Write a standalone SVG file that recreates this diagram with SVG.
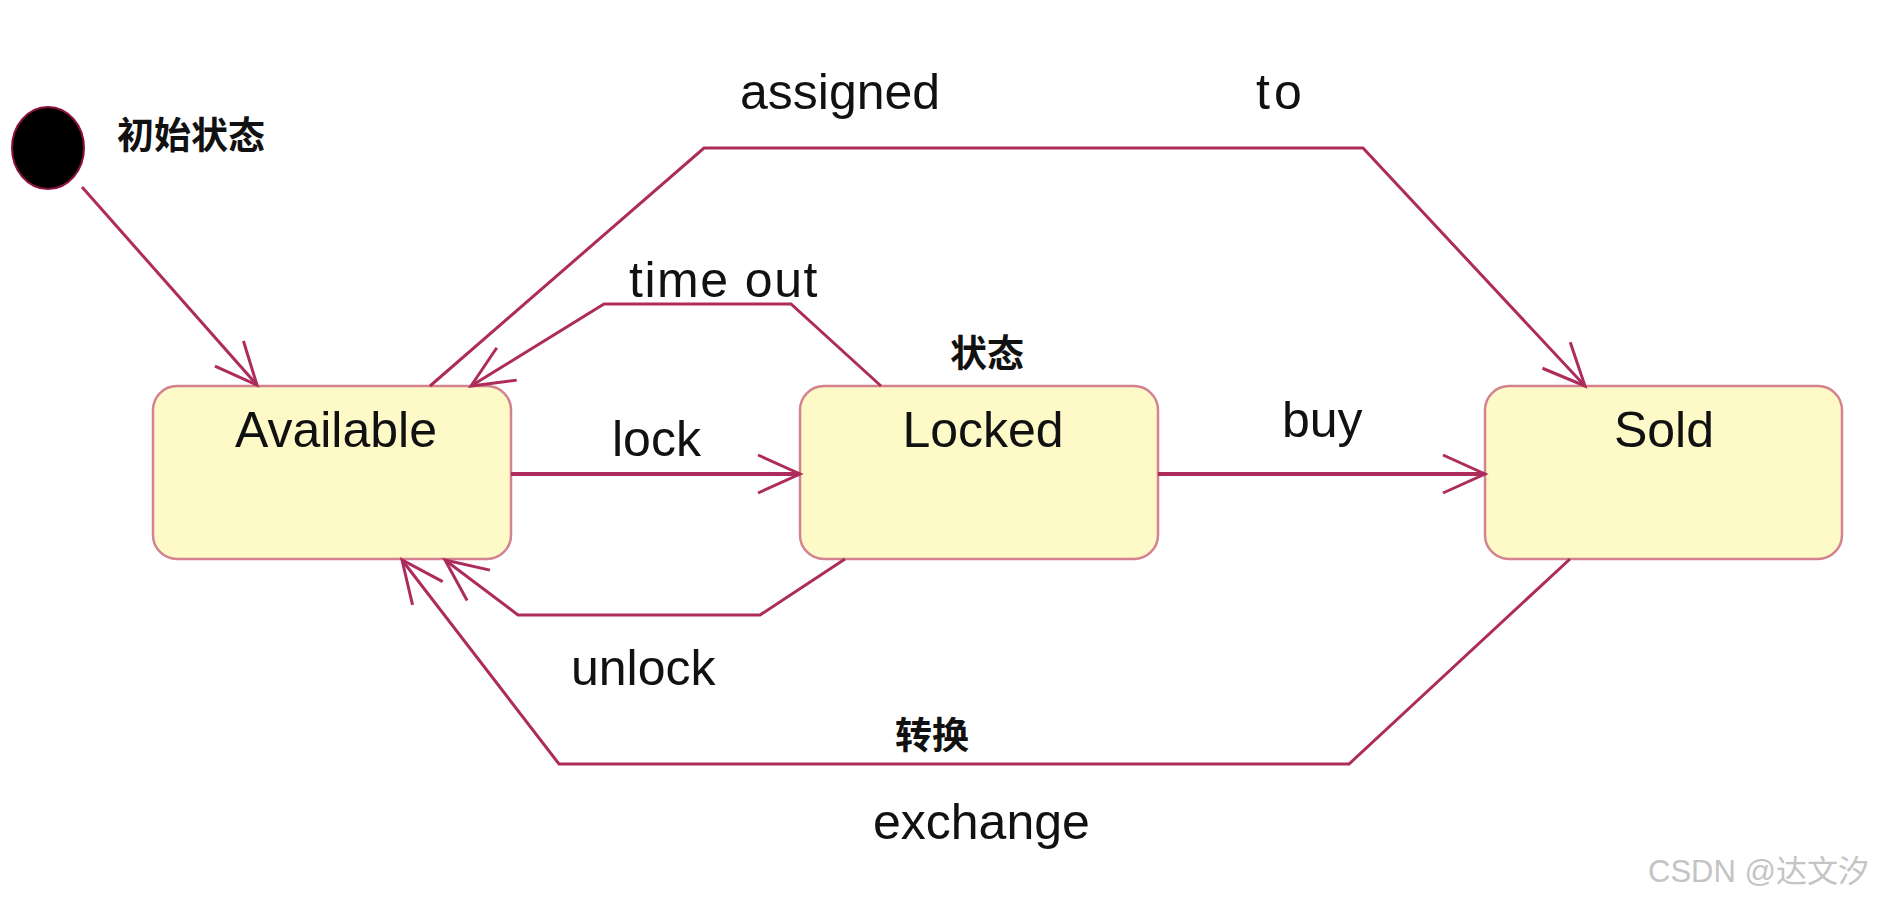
<svg xmlns="http://www.w3.org/2000/svg" width="1893" height="899" viewBox="0 0 1893 899">
<style>
.state{fill:#fdfac8;stroke:#d4828f;stroke-width:2.5}
.lbl{font-family:"Liberation Sans",Arial,sans-serif;font-size:50px;fill:#111}
.cjk{font-family:"Noto Sans CJK SC",sans-serif;font-size:37px;font-weight:bold;fill:#111}
.edge{fill:none;stroke:#ad2c5c;stroke-width:3;stroke-linejoin:miter}
.thick{stroke-width:4}
.wm{font-family:"Liberation Sans","Noto Sans CJK SC",sans-serif;font-size:31px;fill:#c4c4c4}
</style>
<defs>
<marker id="arr" markerUnits="userSpaceOnUse" viewBox="-48 -26 52 52" refX="0" refY="0" markerWidth="52" markerHeight="52" orient="auto" overflow="visible">
<path d="M-42,-19 L0,0 L-42,19" fill="none" stroke="#ad2c5c" stroke-width="3"/>
</marker>
</defs>
<rect width="1893" height="899" fill="#ffffff"/>
<g id="initial">
<ellipse cx="48" cy="148" rx="36" ry="41" fill="#000" stroke="#8a1040" stroke-width="2"/>
<text class="cjk" x="117" y="149">初始状态</text>
</g>
<g id="available">
<rect class="state" x="153" y="386" width="358" height="173" rx="24" ry="24"/>
<text class="lbl" x="336" y="447" text-anchor="middle">Available</text>
</g>
<g id="locked">
<rect class="state" x="800" y="386" width="358" height="173" rx="24" ry="24"/>
<text class="lbl" x="983" y="447" text-anchor="middle">Locked</text>
<text class="cjk" x="950" y="367">状态</text>
</g>
<g id="sold">
<rect class="state" x="1485" y="386" width="357" height="173" rx="24" ry="24"/>
<text class="lbl" x="1664" y="447" text-anchor="middle">Sold</text>
</g>
<g id="connectors">
<path class="edge" d="M82,187 L257,385" marker-end="url(#arr)"/>
<path class="edge thick" d="M511,474 L800,474" marker-end="url(#arr)"/>
<path class="edge thick" d="M1158,474 L1485,474" marker-end="url(#arr)"/>
<path class="edge" d="M881,386 L791,304 L604,304 L471,386" marker-end="url(#arr)"/>
<path class="edge" d="M430,386 L704,148 L1363,148 L1585,386" marker-end="url(#arr)"/>
<path class="edge" d="M845,559 L760,615 L518,615 L445,560" marker-end="url(#arr)"/>
<path class="edge" d="M1570,559 L1349,764 L559,764 L402,560" marker-end="url(#arr)"/>
<text class="lbl" x="612" y="456">lock</text>
<text class="lbl" x="1282" y="437">buy</text>
<text class="lbl" x="629" y="297" letter-spacing="1.5">time out</text>
<text class="lbl" x="740" y="109">assigned</text>
<text class="lbl" x="1256" y="109" letter-spacing="4">to</text>
<text class="lbl" x="571" y="685">unlock</text>
<text class="cjk" x="895" y="749">转换</text>
<text class="lbl" x="873" y="839">exchange</text>
</g>
<text class="wm" x="1648" y="882">CSDN @达文汐</text>
</svg>
